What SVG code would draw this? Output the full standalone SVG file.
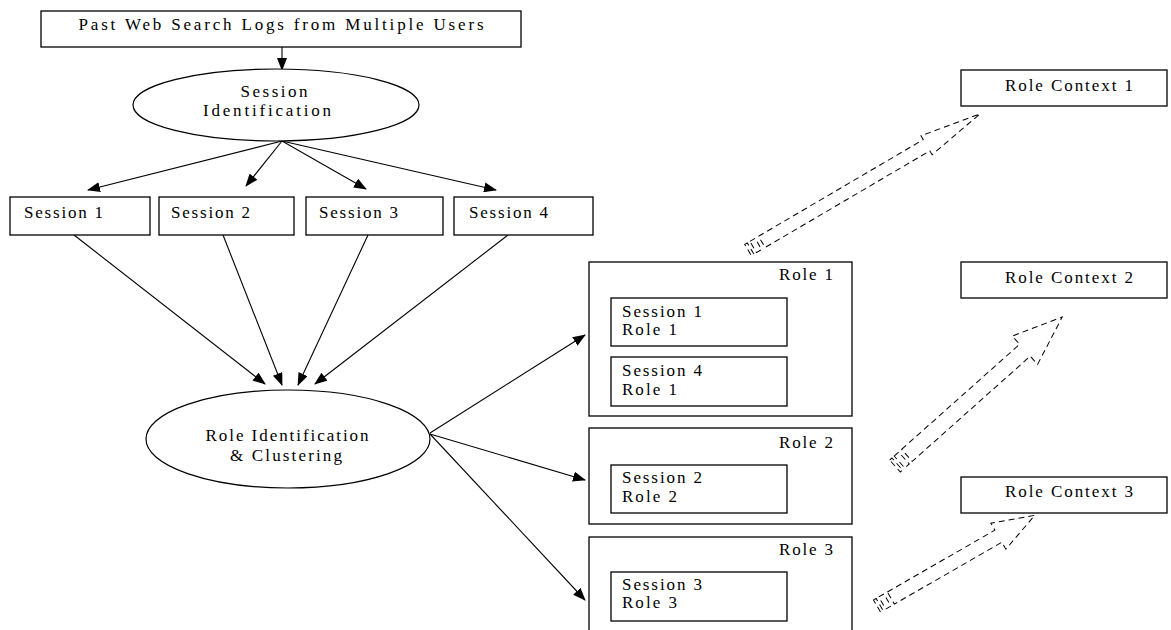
<svg xmlns="http://www.w3.org/2000/svg" width="1171" height="630" viewBox="0 0 1171 630">
<style>
.box{fill:#fff;stroke:#000;stroke-width:1.3}
.ell{fill:#fff;stroke:#000;stroke-width:1.2}
.t{font-family:"Liberation Serif","DejaVu Serif",serif;font-size:17px;fill:#000}
.c{text-anchor:middle}
.ln{stroke:#000;stroke-width:1.1;fill:none;marker-end:url(#ah)}
.blk{fill:none;stroke:#000;stroke-width:1;stroke-dasharray:6,4}
</style>
<defs>
<marker id="ah" markerUnits="userSpaceOnUse" markerWidth="13" markerHeight="10" refX="12" refY="5" orient="auto">
<path d="M0,0 L13,5 L0,10 z" fill="#000"/>
</marker>
</defs>
<rect width="1171" height="630" fill="#fff"/>

<g id="connectors">
<line class="ln" x1="282" y1="47" x2="282" y2="70"/>
<line class="ln" x1="282" y1="141" x2="88" y2="190"/>
<line class="ln" x1="282" y1="141" x2="246" y2="186"/>
<line class="ln" x1="282" y1="141" x2="366" y2="189"/>
<line class="ln" x1="282" y1="141" x2="496" y2="190"/>
<line class="ln" x1="74" y1="235" x2="265" y2="384"/>
<line class="ln" x1="223" y1="235" x2="282" y2="385"/>
<line class="ln" x1="368" y1="235" x2="298" y2="385"/>
<line class="ln" x1="508" y1="235" x2="315" y2="384"/>
<line class="ln" x1="430" y1="433" x2="585" y2="335"/>
<line class="ln" x1="430" y1="434" x2="585" y2="480"/>
<line class="ln" x1="430" y1="434" x2="585" y2="600"/>
<g id="block1" transform="translate(748,250) rotate(-30.4)">
<rect class="blk" x="0" y="-6.5" width="3" height="13"/>
<rect class="blk" x="6" y="-6.5" width="6" height="13"/>
<polygon class="blk" points="16,-6.5 207,-6.5 207,-11 269,0 207,11 207,6.5 16,6.5"/>
</g>
<g id="block2" transform="translate(895,466) rotate(-41.7)">
<rect class="blk" x="0" y="-8" width="3" height="16"/>
<rect class="blk" x="6" y="-8" width="6" height="16"/>
<polygon class="blk" points="16,-8 174,-8 174,-19 224,0 174,19 174,8 16,8"/>
</g>
<g id="block3" transform="translate(877,606) rotate(-29.9)">
<rect class="blk" x="0" y="-7" width="3" height="14"/>
<rect class="blk" x="6" y="-7" width="6" height="14"/>
<polygon class="blk" points="16,-7 140,-7 140,-15 182,0 140,15 140,7 16,7"/>
</g>
</g>

<g id="logs">
<rect class="box" x="41" y="11" width="480" height="36"/>
<text class="t c" x="281" y="30" textLength="405" lengthAdjust="spacing">Past Web Search Logs from Multiple Users</text>
</g>
<g id="session-id">
<ellipse class="ell" cx="276" cy="105" rx="143" ry="36"/>
<text class="t c" x="274" y="97" textLength="67" lengthAdjust="spacing">Session</text>
<text class="t c" x="267" y="116" textLength="128" lengthAdjust="spacing">Identification</text>
</g>
<g id="s1"><rect class="box" x="10" y="197" width="140" height="38"/><text class="t" x="24" y="218" textLength="79" lengthAdjust="spacing">Session 1</text></g>
<g id="s2"><rect class="box" x="159" y="197" width="135" height="38"/><text class="t" x="171" y="218" textLength="79" lengthAdjust="spacing">Session 2</text></g>
<g id="s3"><rect class="box" x="306" y="197" width="137" height="38"/><text class="t" x="319" y="218" textLength="79" lengthAdjust="spacing">Session 3</text></g>
<g id="s4"><rect class="box" x="454" y="197" width="139" height="38"/><text class="t" x="469" y="218" textLength="79" lengthAdjust="spacing">Session 4</text></g>

<g id="role-id">
<ellipse class="ell" cx="288" cy="439" rx="142" ry="49"/>
<text class="t c" x="287" y="441" textLength="163" lengthAdjust="spacing">Role Identification</text>
<text class="t c" x="286" y="461" textLength="112" lengthAdjust="spacing">&amp; Clustering</text>
</g>

<g id="role1">
<rect class="box" x="589" y="262" width="263" height="154"/>
<text class="t" x="779" y="280" textLength="54" lengthAdjust="spacing">Role 1</text>
</g>
<g id="s1r1"><rect class="box" x="611" y="298" width="176" height="48"/>
<text class="t" x="622" y="317" textLength="80" lengthAdjust="spacing">Session 1</text>
<text class="t" x="622" y="335" textLength="55" lengthAdjust="spacing">Role 1</text></g>
<g id="s4r1"><rect class="box" x="611" y="357" width="176" height="49"/>
<text class="t" x="622" y="376" textLength="80" lengthAdjust="spacing">Session 4</text>
<text class="t" x="622" y="395" textLength="55" lengthAdjust="spacing">Role 1</text></g>

<g id="role2">
<rect class="box" x="589" y="428" width="263" height="96"/>
<text class="t" x="779" y="448" textLength="54" lengthAdjust="spacing">Role 2</text>
</g>
<g id="s2r2"><rect class="box" x="611" y="465" width="176" height="48"/>
<text class="t" x="622" y="483" textLength="80" lengthAdjust="spacing">Session 2</text>
<text class="t" x="622" y="502" textLength="55" lengthAdjust="spacing">Role 2</text></g>

<g id="role3">
<rect class="box" x="589" y="537" width="263" height="100"/>
<text class="t" x="779" y="555" textLength="54" lengthAdjust="spacing">Role 3</text>
</g>
<g id="s3r3"><rect class="box" x="611" y="572" width="176" height="49"/>
<text class="t" x="622" y="590" textLength="80" lengthAdjust="spacing">Session 3</text>
<text class="t" x="622" y="608" textLength="55" lengthAdjust="spacing">Role 3</text></g>

<g id="ctx1"><rect class="box" x="961" y="70" width="206" height="36"/>
<text class="t" x="1005" y="91" textLength="128" lengthAdjust="spacing">Role Context 1</text></g>
<g id="ctx2"><rect class="box" x="961" y="262" width="206" height="36"/>
<text class="t" x="1005" y="283" textLength="128" lengthAdjust="spacing">Role Context 2</text></g>
<g id="ctx3"><rect class="box" x="961" y="477" width="206" height="36"/>
<text class="t" x="1005" y="497" textLength="128" lengthAdjust="spacing">Role Context 3</text></g>
</svg>
